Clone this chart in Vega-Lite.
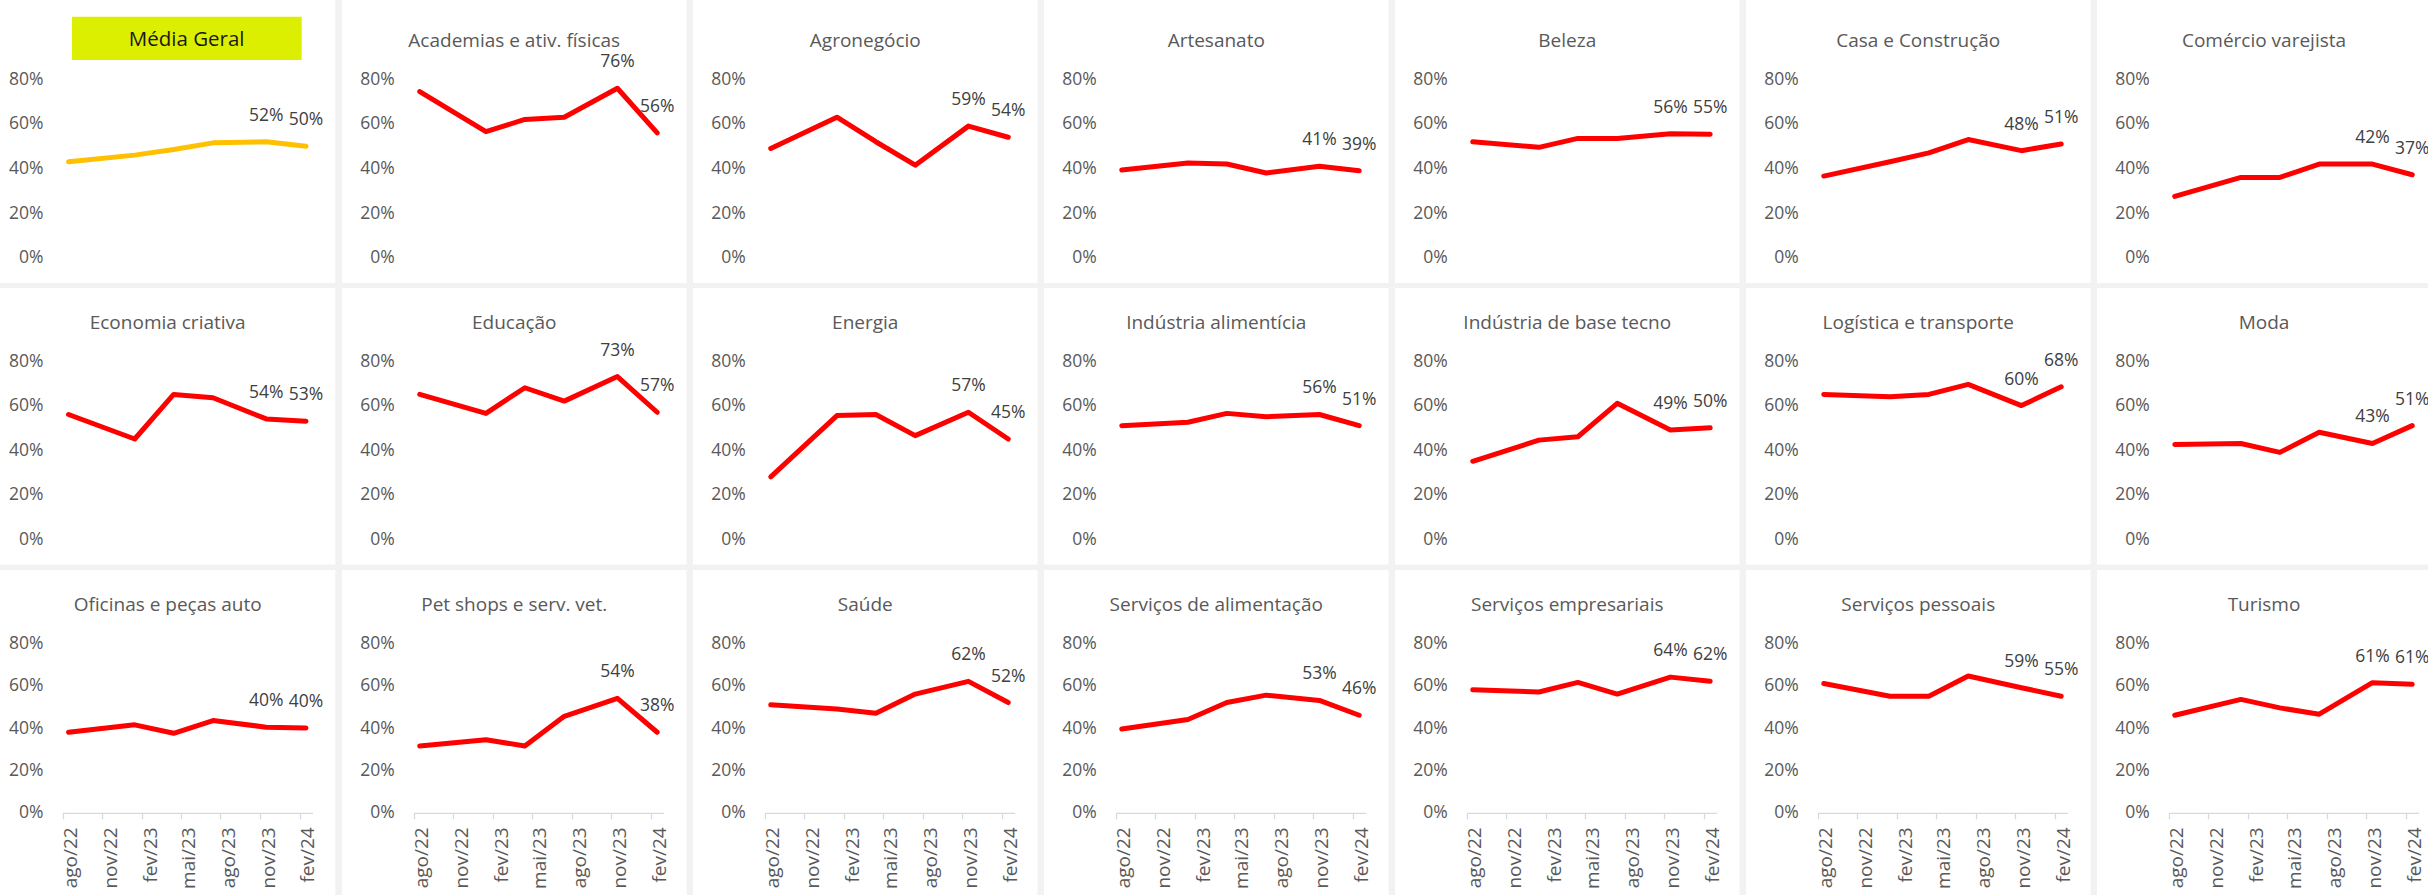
{
"$schema": "https://vega.github.io/schema/vega-lite/v6.json",
"background": "#f2f2f2",
"padding": 0,
"data": {"format": {"parse": {"d": "date"}}, "values": [
{"s":"Média Geral","d":"2022-08-15","v":0.43},{"s":"Média Geral","d":"2023-01-15","v":0.46},{"s":"Média Geral","d":"2023-04-15","v":0.485},{"s":"Média Geral","d":"2023-07-15","v":0.515},{"s":"Média Geral","d":"2023-11-15","v":0.52},{"s":"Média Geral","d":"2024-02-15","v":0.50},
{"s":"Academias e ativ. físicas","d":"2022-08-15","v":0.745},{"s":"Academias e ativ. físicas","d":"2023-01-15","v":0.565},{"s":"Academias e ativ. físicas","d":"2023-04-15","v":0.62},{"s":"Academias e ativ. físicas","d":"2023-07-15","v":0.63},{"s":"Academias e ativ. físicas","d":"2023-11-15","v":0.76},{"s":"Academias e ativ. físicas","d":"2024-02-15","v":0.56},
{"s":"Agronegócio","d":"2022-08-15","v":0.49},{"s":"Agronegócio","d":"2023-01-15","v":0.63},{"s":"Agronegócio","d":"2023-04-15","v":0.52},{"s":"Agronegócio","d":"2023-07-15","v":0.415},{"s":"Agronegócio","d":"2023-11-15","v":0.59},{"s":"Agronegócio","d":"2024-02-15","v":0.54},
{"s":"Artesanato","d":"2022-08-15","v":0.393},{"s":"Artesanato","d":"2023-01-15","v":0.425},{"s":"Artesanato","d":"2023-04-15","v":0.42},{"s":"Artesanato","d":"2023-07-15","v":0.38},{"s":"Artesanato","d":"2023-11-15","v":0.41},{"s":"Artesanato","d":"2024-02-15","v":0.39},
{"s":"Beleza","d":"2022-08-15","v":0.52},{"s":"Beleza","d":"2023-01-15","v":0.495},{"s":"Beleza","d":"2023-04-15","v":0.535},{"s":"Beleza","d":"2023-07-15","v":0.535},{"s":"Beleza","d":"2023-11-15","v":0.556},{"s":"Beleza","d":"2024-02-15","v":0.554},
{"s":"Casa e Construção","d":"2022-08-15","v":0.366},{"s":"Casa e Construção","d":"2023-01-15","v":0.43},{"s":"Casa e Construção","d":"2023-04-15","v":0.47},{"s":"Casa e Construção","d":"2023-07-15","v":0.53},{"s":"Casa e Construção","d":"2023-11-15","v":0.48},{"s":"Casa e Construção","d":"2024-02-15","v":0.51},
{"s":"Comércio varejista","d":"2022-08-15","v":0.275},{"s":"Comércio varejista","d":"2023-01-15","v":0.36},{"s":"Comércio varejista","d":"2023-04-15","v":0.36},{"s":"Comércio varejista","d":"2023-07-15","v":0.42},{"s":"Comércio varejista","d":"2023-11-15","v":0.42},{"s":"Comércio varejista","d":"2024-02-15","v":0.372},
{"s":"Economia criativa","d":"2022-08-15","v":0.56},{"s":"Economia criativa","d":"2023-01-15","v":0.45},{"s":"Economia criativa","d":"2023-04-15","v":0.65},{"s":"Economia criativa","d":"2023-07-15","v":0.635},{"s":"Economia criativa","d":"2023-11-15","v":0.54},{"s":"Economia criativa","d":"2024-02-15","v":0.53},
{"s":"Educação","d":"2022-08-15","v":0.65},{"s":"Educação","d":"2023-01-15","v":0.565},{"s":"Educação","d":"2023-04-15","v":0.68},{"s":"Educação","d":"2023-07-15","v":0.62},{"s":"Educação","d":"2023-11-15","v":0.73},{"s":"Educação","d":"2024-02-15","v":0.57},
{"s":"Energia","d":"2022-08-15","v":0.28},{"s":"Energia","d":"2023-01-15","v":0.555},{"s":"Energia","d":"2023-04-15","v":0.56},{"s":"Energia","d":"2023-07-15","v":0.465},{"s":"Energia","d":"2023-11-15","v":0.57},{"s":"Energia","d":"2024-02-15","v":0.45},
{"s":"Indústria alimentícia","d":"2022-08-15","v":0.51},{"s":"Indústria alimentícia","d":"2023-01-15","v":0.525},{"s":"Indústria alimentícia","d":"2023-04-15","v":0.565},{"s":"Indústria alimentícia","d":"2023-07-15","v":0.55},{"s":"Indústria alimentícia","d":"2023-11-15","v":0.56},{"s":"Indústria alimentícia","d":"2024-02-15","v":0.51},
{"s":"Indústria de base tecno","d":"2022-08-15","v":0.35},{"s":"Indústria de base tecno","d":"2023-01-15","v":0.445},{"s":"Indústria de base tecno","d":"2023-04-15","v":0.46},{"s":"Indústria de base tecno","d":"2023-07-15","v":0.61},{"s":"Indústria de base tecno","d":"2023-11-15","v":0.49},{"s":"Indústria de base tecno","d":"2024-02-15","v":0.50},
{"s":"Logística e transporte","d":"2022-08-15","v":0.65},{"s":"Logística e transporte","d":"2023-01-15","v":0.64},{"s":"Logística e transporte","d":"2023-04-15","v":0.65},{"s":"Logística e transporte","d":"2023-07-15","v":0.695},{"s":"Logística e transporte","d":"2023-11-15","v":0.60},{"s":"Logística e transporte","d":"2024-02-15","v":0.684},
{"s":"Moda","d":"2022-08-15","v":0.425},{"s":"Moda","d":"2023-01-15","v":0.43},{"s":"Moda","d":"2023-04-15","v":0.39},{"s":"Moda","d":"2023-07-15","v":0.48},{"s":"Moda","d":"2023-11-15","v":0.43},{"s":"Moda","d":"2024-02-15","v":0.51},
{"s":"Oficinas e peças auto","d":"2022-08-15","v":0.38},{"s":"Oficinas e peças auto","d":"2023-01-15","v":0.415},{"s":"Oficinas e peças auto","d":"2023-04-15","v":0.375},{"s":"Oficinas e peças auto","d":"2023-07-15","v":0.435},{"s":"Oficinas e peças auto","d":"2023-11-15","v":0.404},{"s":"Oficinas e peças auto","d":"2024-02-15","v":0.40},
{"s":"Pet shops e serv. vet.","d":"2022-08-15","v":0.315},{"s":"Pet shops e serv. vet.","d":"2023-01-15","v":0.345},{"s":"Pet shops e serv. vet.","d":"2023-04-15","v":0.315},{"s":"Pet shops e serv. vet.","d":"2023-07-15","v":0.455},{"s":"Pet shops e serv. vet.","d":"2023-11-15","v":0.54},{"s":"Pet shops e serv. vet.","d":"2024-02-15","v":0.38},
{"s":"Saúde","d":"2022-08-15","v":0.51},{"s":"Saúde","d":"2023-01-15","v":0.49},{"s":"Saúde","d":"2023-04-15","v":0.47},{"s":"Saúde","d":"2023-07-15","v":0.56},{"s":"Saúde","d":"2023-11-15","v":0.62},{"s":"Saúde","d":"2024-02-15","v":0.52},
{"s":"Serviços de alimentação","d":"2022-08-15","v":0.395},{"s":"Serviços de alimentação","d":"2023-01-15","v":0.44},{"s":"Serviços de alimentação","d":"2023-04-15","v":0.52},{"s":"Serviços de alimentação","d":"2023-07-15","v":0.555},{"s":"Serviços de alimentação","d":"2023-11-15","v":0.53},{"s":"Serviços de alimentação","d":"2024-02-15","v":0.46},
{"s":"Serviços empresariais","d":"2022-08-15","v":0.58},{"s":"Serviços empresariais","d":"2023-01-15","v":0.57},{"s":"Serviços empresariais","d":"2023-04-15","v":0.615},{"s":"Serviços empresariais","d":"2023-07-15","v":0.56},{"s":"Serviços empresariais","d":"2023-11-15","v":0.64},{"s":"Serviços empresariais","d":"2024-02-15","v":0.62},
{"s":"Serviços pessoais","d":"2022-08-15","v":0.61},{"s":"Serviços pessoais","d":"2023-01-15","v":0.55},{"s":"Serviços pessoais","d":"2023-04-15","v":0.55},{"s":"Serviços pessoais","d":"2023-07-15","v":0.645},{"s":"Serviços pessoais","d":"2023-11-15","v":0.59},{"s":"Serviços pessoais","d":"2024-02-15","v":0.55},
{"s":"Turismo","d":"2022-08-15","v":0.46},{"s":"Turismo","d":"2023-01-15","v":0.535},{"s":"Turismo","d":"2023-04-15","v":0.495},{"s":"Turismo","d":"2023-07-15","v":0.465},{"s":"Turismo","d":"2023-11-15","v":0.614},{"s":"Turismo","d":"2024-02-15","v":0.606}
]},
"spacing": 5,
"resolve": {"scale": {"x": "independent", "y": "independent"}},
"vconcat": [
{"spacing": 6, "resolve": {"scale": {"x": "independent", "y": "independent"}}, "hconcat": [
 {"width": 335.3, "height": 283, "title": {"text": "Média Geral", "offset": -50, "dx": 19, "color": "#1a1a1a", "fontSize": 20.5}, "transform": [{"filter": {"field": "s", "equal": "Média Geral"}}],
  "encoding": {"x": {"field": "d", "type": "temporal", "scale": {"type": "utc", "domain": [{"year":2022,"month":8,"date":1,"utc":true},{"year":2024,"month":3,"date":1,"utc":true}], "range": [62.5, 312.5]}, "axis": null},
   "y": {"field": "v", "type": "quantitative", "scale": {"domain": [0, 0.8], "range": [257.7, 79.3], "nice": false, "zero": false}, "axis": {"values": [0,0.2,0.4,0.6,0.8], "format": ".0%", "offset": -43}}},
  "layer": [
   {"transform": [{"filter": "datum.d < datetime(2022,8,1)"}], "mark": {"type": "rect", "color": "#ddef00"},
    "encoding": {"x": {"datum": {"year":2022,"month":8,"date":23,"utc":true}, "type": "temporal"}, "x2": {"datum": {"year":2024,"month":2,"date":5,"utc":true}}, "y": {"datum": 0.8865, "type": "quantitative"}, "y2": {"datum": 1.0807}}},
   {"mark": {"type": "line", "color": "#ffc000", "strokeWidth": 5, "strokeJoin": "round", "strokeCap": "round"}},
   {"transform": [{"filter": "datum.d >= datetime(2023,8,1)"}], "mark": {"type": "text", "dy": -26, "fontSize": 17.5, "color": "#404040"}, "encoding": {"text": {"field": "v", "type": "quantitative", "format": ".0%"}}}
  ]},
 {"width": 344.5, "height": 283, "title": {"text": "Academias e ativ. físicas", "offset": -51}, "transform": [{"filter": {"field": "s", "equal": "Academias e ativ. físicas"}}],
  "encoding": {"x": {"field": "d", "type": "temporal", "scale": {"type": "utc", "domain": [{"year":2022,"month":8,"date":1,"utc":true},{"year":2024,"month":3,"date":1,"utc":true}], "range": [71.7, 321.7]}, "axis": null},
   "y": {"field": "v", "type": "quantitative", "scale": {"domain": [0, 0.8], "range": [257.7, 79.3], "nice": false, "zero": false}, "axis": {"values": [0,0.2,0.4,0.6,0.8], "format": ".0%", "offset": -52.2}}},
  "layer": [{"mark": {"type": "line", "color": "#ff0000", "strokeWidth": 5, "strokeJoin": "round", "strokeCap": "round"}},
   {"transform": [{"filter": "datum.d >= datetime(2023,8,1)"}], "mark": {"type": "text", "dy": -26, "fontSize": 17.5, "color": "#404040"}, "encoding": {"text": {"field": "v", "type": "quantitative", "format": ".0%"}}}]},
 {"width": 344.5, "height": 283, "title": {"text": "Agronegócio", "offset": -51}, "transform": [{"filter": {"field": "s", "equal": "Agronegócio"}}],
  "encoding": {"x": {"field": "d", "type": "temporal", "scale": {"type": "utc", "domain": [{"year":2022,"month":8,"date":1,"utc":true},{"year":2024,"month":3,"date":1,"utc":true}], "range": [71.7, 321.7]}, "axis": null},
   "y": {"field": "v", "type": "quantitative", "scale": {"domain": [0, 0.8], "range": [257.7, 79.3], "nice": false, "zero": false}, "axis": {"values": [0,0.2,0.4,0.6,0.8], "format": ".0%", "offset": -52.2}}},
  "layer": [{"mark": {"type": "line", "color": "#ff0000", "strokeWidth": 5, "strokeJoin": "round", "strokeCap": "round"}},
   {"transform": [{"filter": "datum.d >= datetime(2023,8,1)"}], "mark": {"type": "text", "dy": -26, "fontSize": 17.5, "color": "#404040"}, "encoding": {"text": {"field": "v", "type": "quantitative", "format": ".0%"}}}]},
 {"width": 344.5, "height": 283, "title": {"text": "Artesanato", "offset": -51}, "transform": [{"filter": {"field": "s", "equal": "Artesanato"}}],
  "encoding": {"x": {"field": "d", "type": "temporal", "scale": {"type": "utc", "domain": [{"year":2022,"month":8,"date":1,"utc":true},{"year":2024,"month":3,"date":1,"utc":true}], "range": [71.7, 321.7]}, "axis": null},
   "y": {"field": "v", "type": "quantitative", "scale": {"domain": [0, 0.8], "range": [257.7, 79.3], "nice": false, "zero": false}, "axis": {"values": [0,0.2,0.4,0.6,0.8], "format": ".0%", "offset": -52.2}}},
  "layer": [{"mark": {"type": "line", "color": "#ff0000", "strokeWidth": 5, "strokeJoin": "round", "strokeCap": "round"}},
   {"transform": [{"filter": "datum.d >= datetime(2023,8,1)"}], "mark": {"type": "text", "dy": -26, "fontSize": 17.5, "color": "#404040"}, "encoding": {"text": {"field": "v", "type": "quantitative", "format": ".0%"}}}]},
 {"width": 344.5, "height": 283, "title": {"text": "Beleza", "offset": -51}, "transform": [{"filter": {"field": "s", "equal": "Beleza"}}],
  "encoding": {"x": {"field": "d", "type": "temporal", "scale": {"type": "utc", "domain": [{"year":2022,"month":8,"date":1,"utc":true},{"year":2024,"month":3,"date":1,"utc":true}], "range": [71.7, 321.7]}, "axis": null},
   "y": {"field": "v", "type": "quantitative", "scale": {"domain": [0, 0.8], "range": [257.7, 79.3], "nice": false, "zero": false}, "axis": {"values": [0,0.2,0.4,0.6,0.8], "format": ".0%", "offset": -52.2}}},
  "layer": [{"mark": {"type": "line", "color": "#ff0000", "strokeWidth": 5, "strokeJoin": "round", "strokeCap": "round"}},
   {"transform": [{"filter": "datum.d >= datetime(2023,8,1)"}], "mark": {"type": "text", "dy": -26, "fontSize": 17.5, "color": "#404040"}, "encoding": {"text": {"field": "v", "type": "quantitative", "format": ".0%"}}}]},
 {"width": 344.5, "height": 283, "title": {"text": "Casa e Construção", "offset": -51}, "transform": [{"filter": {"field": "s", "equal": "Casa e Construção"}}],
  "encoding": {"x": {"field": "d", "type": "temporal", "scale": {"type": "utc", "domain": [{"year":2022,"month":8,"date":1,"utc":true},{"year":2024,"month":3,"date":1,"utc":true}], "range": [71.7, 321.7]}, "axis": null},
   "y": {"field": "v", "type": "quantitative", "scale": {"domain": [0, 0.8], "range": [257.7, 79.3], "nice": false, "zero": false}, "axis": {"values": [0,0.2,0.4,0.6,0.8], "format": ".0%", "offset": -52.2}}},
  "layer": [{"mark": {"type": "line", "color": "#ff0000", "strokeWidth": 5, "strokeJoin": "round", "strokeCap": "round"}},
   {"transform": [{"filter": "datum.d >= datetime(2023,8,1)"}], "mark": {"type": "text", "dy": -26, "fontSize": 17.5, "color": "#404040"}, "encoding": {"text": {"field": "v", "type": "quantitative", "format": ".0%"}}}]},
 {"width": 334, "height": 283, "title": {"text": "Comércio varejista", "offset": -51}, "transform": [{"filter": {"field": "s", "equal": "Comércio varejista"}}],
  "encoding": {"x": {"field": "d", "type": "temporal", "scale": {"type": "utc", "domain": [{"year":2022,"month":8,"date":1,"utc":true},{"year":2024,"month":3,"date":1,"utc":true}], "range": [71.7, 321.7]}, "axis": null},
   "y": {"field": "v", "type": "quantitative", "scale": {"domain": [0, 0.8], "range": [257.7, 79.3], "nice": false, "zero": false}, "axis": {"values": [0,0.2,0.4,0.6,0.8], "format": ".0%", "offset": -52.2}}},
  "layer": [{"mark": {"type": "line", "color": "#ff0000", "strokeWidth": 5, "strokeJoin": "round", "strokeCap": "round"}},
   {"transform": [{"filter": "datum.d >= datetime(2023,8,1)"}], "mark": {"type": "text", "dy": -26, "fontSize": 17.5, "color": "#404040"}, "encoding": {"text": {"field": "v", "type": "quantitative", "format": ".0%"}}}]}
]},
{"spacing": 6, "resolve": {"scale": {"x": "independent", "y": "independent"}}, "hconcat": [
 {"width": 335.3, "height": 276.5, "title": {"text": "Economia criativa", "offset": -45}, "transform": [{"filter": {"field": "s", "equal": "Economia criativa"}}],
  "encoding": {"x": {"field": "d", "type": "temporal", "scale": {"type": "utc", "domain": [{"year":2022,"month":8,"date":1,"utc":true},{"year":2024,"month":3,"date":1,"utc":true}], "range": [62.5, 312.5]}, "axis": null},
   "y": {"field": "v", "type": "quantitative", "scale": {"domain": [0, 0.8], "range": [251.3, 73], "nice": false, "zero": false}, "axis": {"values": [0,0.2,0.4,0.6,0.8], "format": ".0%", "offset": -43}}},
  "layer": [{"mark": {"type": "line", "color": "#ff0000", "strokeWidth": 5, "strokeJoin": "round", "strokeCap": "round"}},
   {"transform": [{"filter": "datum.d >= datetime(2023,8,1)"}], "mark": {"type": "text", "dy": -26, "fontSize": 17.5, "color": "#404040"}, "encoding": {"text": {"field": "v", "type": "quantitative", "format": ".0%"}}}]},
 {"width": 344.5, "height": 276.5, "title": {"text": "Educação", "offset": -45}, "transform": [{"filter": {"field": "s", "equal": "Educação"}}],
  "encoding": {"x": {"field": "d", "type": "temporal", "scale": {"type": "utc", "domain": [{"year":2022,"month":8,"date":1,"utc":true},{"year":2024,"month":3,"date":1,"utc":true}], "range": [71.7, 321.7]}, "axis": null},
   "y": {"field": "v", "type": "quantitative", "scale": {"domain": [0, 0.8], "range": [251.3, 73], "nice": false, "zero": false}, "axis": {"values": [0,0.2,0.4,0.6,0.8], "format": ".0%", "offset": -52.2}}},
  "layer": [{"mark": {"type": "line", "color": "#ff0000", "strokeWidth": 5, "strokeJoin": "round", "strokeCap": "round"}},
   {"transform": [{"filter": "datum.d >= datetime(2023,8,1)"}], "mark": {"type": "text", "dy": -26, "fontSize": 17.5, "color": "#404040"}, "encoding": {"text": {"field": "v", "type": "quantitative", "format": ".0%"}}}]},
 {"width": 344.5, "height": 276.5, "title": {"text": "Energia", "offset": -45}, "transform": [{"filter": {"field": "s", "equal": "Energia"}}],
  "encoding": {"x": {"field": "d", "type": "temporal", "scale": {"type": "utc", "domain": [{"year":2022,"month":8,"date":1,"utc":true},{"year":2024,"month":3,"date":1,"utc":true}], "range": [71.7, 321.7]}, "axis": null},
   "y": {"field": "v", "type": "quantitative", "scale": {"domain": [0, 0.8], "range": [251.3, 73], "nice": false, "zero": false}, "axis": {"values": [0,0.2,0.4,0.6,0.8], "format": ".0%", "offset": -52.2}}},
  "layer": [{"mark": {"type": "line", "color": "#ff0000", "strokeWidth": 5, "strokeJoin": "round", "strokeCap": "round"}},
   {"transform": [{"filter": "datum.d >= datetime(2023,8,1)"}], "mark": {"type": "text", "dy": -26, "fontSize": 17.5, "color": "#404040"}, "encoding": {"text": {"field": "v", "type": "quantitative", "format": ".0%"}}}]},
 {"width": 344.5, "height": 276.5, "title": {"text": "Indústria alimentícia", "offset": -45}, "transform": [{"filter": {"field": "s", "equal": "Indústria alimentícia"}}],
  "encoding": {"x": {"field": "d", "type": "temporal", "scale": {"type": "utc", "domain": [{"year":2022,"month":8,"date":1,"utc":true},{"year":2024,"month":3,"date":1,"utc":true}], "range": [71.7, 321.7]}, "axis": null},
   "y": {"field": "v", "type": "quantitative", "scale": {"domain": [0, 0.8], "range": [251.3, 73], "nice": false, "zero": false}, "axis": {"values": [0,0.2,0.4,0.6,0.8], "format": ".0%", "offset": -52.2}}},
  "layer": [{"mark": {"type": "line", "color": "#ff0000", "strokeWidth": 5, "strokeJoin": "round", "strokeCap": "round"}},
   {"transform": [{"filter": "datum.d >= datetime(2023,8,1)"}], "mark": {"type": "text", "dy": -26, "fontSize": 17.5, "color": "#404040"}, "encoding": {"text": {"field": "v", "type": "quantitative", "format": ".0%"}}}]},
 {"width": 344.5, "height": 276.5, "title": {"text": "Indústria de base tecno", "offset": -45}, "transform": [{"filter": {"field": "s", "equal": "Indústria de base tecno"}}],
  "encoding": {"x": {"field": "d", "type": "temporal", "scale": {"type": "utc", "domain": [{"year":2022,"month":8,"date":1,"utc":true},{"year":2024,"month":3,"date":1,"utc":true}], "range": [71.7, 321.7]}, "axis": null},
   "y": {"field": "v", "type": "quantitative", "scale": {"domain": [0, 0.8], "range": [251.3, 73], "nice": false, "zero": false}, "axis": {"values": [0,0.2,0.4,0.6,0.8], "format": ".0%", "offset": -52.2}}},
  "layer": [{"mark": {"type": "line", "color": "#ff0000", "strokeWidth": 5, "strokeJoin": "round", "strokeCap": "round"}},
   {"transform": [{"filter": "datum.d >= datetime(2023,8,1)"}], "mark": {"type": "text", "dy": -26, "fontSize": 17.5, "color": "#404040"}, "encoding": {"text": {"field": "v", "type": "quantitative", "format": ".0%"}}}]},
 {"width": 344.5, "height": 276.5, "title": {"text": "Logística e transporte", "offset": -45}, "transform": [{"filter": {"field": "s", "equal": "Logística e transporte"}}],
  "encoding": {"x": {"field": "d", "type": "temporal", "scale": {"type": "utc", "domain": [{"year":2022,"month":8,"date":1,"utc":true},{"year":2024,"month":3,"date":1,"utc":true}], "range": [71.7, 321.7]}, "axis": null},
   "y": {"field": "v", "type": "quantitative", "scale": {"domain": [0, 0.8], "range": [251.3, 73], "nice": false, "zero": false}, "axis": {"values": [0,0.2,0.4,0.6,0.8], "format": ".0%", "offset": -52.2}}},
  "layer": [{"mark": {"type": "line", "color": "#ff0000", "strokeWidth": 5, "strokeJoin": "round", "strokeCap": "round"}},
   {"transform": [{"filter": "datum.d >= datetime(2023,8,1)"}], "mark": {"type": "text", "dy": -26, "fontSize": 17.5, "color": "#404040"}, "encoding": {"text": {"field": "v", "type": "quantitative", "format": ".0%"}}}]},
 {"width": 334, "height": 276.5, "title": {"text": "Moda", "offset": -45}, "transform": [{"filter": {"field": "s", "equal": "Moda"}}],
  "encoding": {"x": {"field": "d", "type": "temporal", "scale": {"type": "utc", "domain": [{"year":2022,"month":8,"date":1,"utc":true},{"year":2024,"month":3,"date":1,"utc":true}], "range": [71.7, 321.7]}, "axis": null},
   "y": {"field": "v", "type": "quantitative", "scale": {"domain": [0, 0.8], "range": [251.3, 73], "nice": false, "zero": false}, "axis": {"values": [0,0.2,0.4,0.6,0.8], "format": ".0%", "offset": -52.2}}},
  "layer": [{"mark": {"type": "line", "color": "#ff0000", "strokeWidth": 5, "strokeJoin": "round", "strokeCap": "round"}},
   {"transform": [{"filter": "datum.d >= datetime(2023,8,1)"}], "mark": {"type": "text", "dy": -26, "fontSize": 17.5, "color": "#404040"}, "encoding": {"text": {"field": "v", "type": "quantitative", "format": ".0%"}}}]}
]},
{"spacing": 6, "resolve": {"scale": {"x": "independent", "y": "independent"}}, "hconcat": [
 {"width": 335.3, "height": 325.5, "title": {"text": "Oficinas e peças auto", "offset": -45.4}, "transform": [{"filter": {"field": "s", "equal": "Oficinas e peças auto"}}],
  "encoding": {"x": {"field": "d", "type": "temporal", "scale": {"type": "utc", "domain": [{"year":2022,"month":8,"date":1,"utc":true},{"year":2024,"month":3,"date":1,"utc":true}], "range": [62.5, 312.5]},
    "axis": {"values": [{"year":2022,"month":8,"date":1,"utc":true},{"year":2022,"month":11,"date":1,"utc":true},{"year":2023,"month":2,"date":1,"utc":true},{"year":2023,"month":5,"date":1,"utc":true},{"year":2023,"month":8,"date":1,"utc":true},{"year":2023,"month":11,"date":1,"utc":true},{"year":2024,"month":2,"date":1,"utc":true}], "labelExpr": "['jan','fev','mar','abr','mai','jun','jul','ago','set','out','nov','dez'][utcmonth(datum.value)] + '/' + utcFormat(datum.value, '%y')", "offset": -82.7}},
   "y": {"field": "v", "type": "quantitative", "scale": {"domain": [0, 0.8], "range": [242.8, 73.2], "nice": false, "zero": false}, "axis": {"values": [0,0.2,0.4,0.6,0.8], "format": ".0%", "offset": -43}}},
  "layer": [{"mark": {"type": "line", "color": "#ff0000", "strokeWidth": 5, "strokeJoin": "round", "strokeCap": "round"}},
   {"transform": [{"filter": "datum.d >= datetime(2023,8,1)"}], "mark": {"type": "text", "dy": -26, "fontSize": 17.5, "color": "#404040"}, "encoding": {"text": {"field": "v", "type": "quantitative", "format": ".0%"}}}]},
 {"width": 344.5, "height": 325.5, "title": {"text": "Pet shops e serv. vet.", "offset": -45.4}, "transform": [{"filter": {"field": "s", "equal": "Pet shops e serv. vet."}}],
  "encoding": {"x": {"field": "d", "type": "temporal", "scale": {"type": "utc", "domain": [{"year":2022,"month":8,"date":1,"utc":true},{"year":2024,"month":3,"date":1,"utc":true}], "range": [71.7, 321.7]},
    "axis": {"values": [{"year":2022,"month":8,"date":1,"utc":true},{"year":2022,"month":11,"date":1,"utc":true},{"year":2023,"month":2,"date":1,"utc":true},{"year":2023,"month":5,"date":1,"utc":true},{"year":2023,"month":8,"date":1,"utc":true},{"year":2023,"month":11,"date":1,"utc":true},{"year":2024,"month":2,"date":1,"utc":true}], "labelExpr": "['jan','fev','mar','abr','mai','jun','jul','ago','set','out','nov','dez'][utcmonth(datum.value)] + '/' + utcFormat(datum.value, '%y')", "offset": -82.7}},
   "y": {"field": "v", "type": "quantitative", "scale": {"domain": [0, 0.8], "range": [242.8, 73.2], "nice": false, "zero": false}, "axis": {"values": [0,0.2,0.4,0.6,0.8], "format": ".0%", "offset": -52.2}}},
  "layer": [{"mark": {"type": "line", "color": "#ff0000", "strokeWidth": 5, "strokeJoin": "round", "strokeCap": "round"}},
   {"transform": [{"filter": "datum.d >= datetime(2023,8,1)"}], "mark": {"type": "text", "dy": -26, "fontSize": 17.5, "color": "#404040"}, "encoding": {"text": {"field": "v", "type": "quantitative", "format": ".0%"}}}]},
 {"width": 344.5, "height": 325.5, "title": {"text": "Saúde", "offset": -45.4}, "transform": [{"filter": {"field": "s", "equal": "Saúde"}}],
  "encoding": {"x": {"field": "d", "type": "temporal", "scale": {"type": "utc", "domain": [{"year":2022,"month":8,"date":1,"utc":true},{"year":2024,"month":3,"date":1,"utc":true}], "range": [71.7, 321.7]},
    "axis": {"values": [{"year":2022,"month":8,"date":1,"utc":true},{"year":2022,"month":11,"date":1,"utc":true},{"year":2023,"month":2,"date":1,"utc":true},{"year":2023,"month":5,"date":1,"utc":true},{"year":2023,"month":8,"date":1,"utc":true},{"year":2023,"month":11,"date":1,"utc":true},{"year":2024,"month":2,"date":1,"utc":true}], "labelExpr": "['jan','fev','mar','abr','mai','jun','jul','ago','set','out','nov','dez'][utcmonth(datum.value)] + '/' + utcFormat(datum.value, '%y')", "offset": -82.7}},
   "y": {"field": "v", "type": "quantitative", "scale": {"domain": [0, 0.8], "range": [242.8, 73.2], "nice": false, "zero": false}, "axis": {"values": [0,0.2,0.4,0.6,0.8], "format": ".0%", "offset": -52.2}}},
  "layer": [{"mark": {"type": "line", "color": "#ff0000", "strokeWidth": 5, "strokeJoin": "round", "strokeCap": "round"}},
   {"transform": [{"filter": "datum.d >= datetime(2023,8,1)"}], "mark": {"type": "text", "dy": -26, "fontSize": 17.5, "color": "#404040"}, "encoding": {"text": {"field": "v", "type": "quantitative", "format": ".0%"}}}]},
 {"width": 344.5, "height": 325.5, "title": {"text": "Serviços de alimentação", "offset": -45.4}, "transform": [{"filter": {"field": "s", "equal": "Serviços de alimentação"}}],
  "encoding": {"x": {"field": "d", "type": "temporal", "scale": {"type": "utc", "domain": [{"year":2022,"month":8,"date":1,"utc":true},{"year":2024,"month":3,"date":1,"utc":true}], "range": [71.7, 321.7]},
    "axis": {"values": [{"year":2022,"month":8,"date":1,"utc":true},{"year":2022,"month":11,"date":1,"utc":true},{"year":2023,"month":2,"date":1,"utc":true},{"year":2023,"month":5,"date":1,"utc":true},{"year":2023,"month":8,"date":1,"utc":true},{"year":2023,"month":11,"date":1,"utc":true},{"year":2024,"month":2,"date":1,"utc":true}], "labelExpr": "['jan','fev','mar','abr','mai','jun','jul','ago','set','out','nov','dez'][utcmonth(datum.value)] + '/' + utcFormat(datum.value, '%y')", "offset": -82.7}},
   "y": {"field": "v", "type": "quantitative", "scale": {"domain": [0, 0.8], "range": [242.8, 73.2], "nice": false, "zero": false}, "axis": {"values": [0,0.2,0.4,0.6,0.8], "format": ".0%", "offset": -52.2}}},
  "layer": [{"mark": {"type": "line", "color": "#ff0000", "strokeWidth": 5, "strokeJoin": "round", "strokeCap": "round"}},
   {"transform": [{"filter": "datum.d >= datetime(2023,8,1)"}], "mark": {"type": "text", "dy": -26, "fontSize": 17.5, "color": "#404040"}, "encoding": {"text": {"field": "v", "type": "quantitative", "format": ".0%"}}}]},
 {"width": 344.5, "height": 325.5, "title": {"text": "Serviços empresariais", "offset": -45.4}, "transform": [{"filter": {"field": "s", "equal": "Serviços empresariais"}}],
  "encoding": {"x": {"field": "d", "type": "temporal", "scale": {"type": "utc", "domain": [{"year":2022,"month":8,"date":1,"utc":true},{"year":2024,"month":3,"date":1,"utc":true}], "range": [71.7, 321.7]},
    "axis": {"values": [{"year":2022,"month":8,"date":1,"utc":true},{"year":2022,"month":11,"date":1,"utc":true},{"year":2023,"month":2,"date":1,"utc":true},{"year":2023,"month":5,"date":1,"utc":true},{"year":2023,"month":8,"date":1,"utc":true},{"year":2023,"month":11,"date":1,"utc":true},{"year":2024,"month":2,"date":1,"utc":true}], "labelExpr": "['jan','fev','mar','abr','mai','jun','jul','ago','set','out','nov','dez'][utcmonth(datum.value)] + '/' + utcFormat(datum.value, '%y')", "offset": -82.7}},
   "y": {"field": "v", "type": "quantitative", "scale": {"domain": [0, 0.8], "range": [242.8, 73.2], "nice": false, "zero": false}, "axis": {"values": [0,0.2,0.4,0.6,0.8], "format": ".0%", "offset": -52.2}}},
  "layer": [{"mark": {"type": "line", "color": "#ff0000", "strokeWidth": 5, "strokeJoin": "round", "strokeCap": "round"}},
   {"transform": [{"filter": "datum.d >= datetime(2023,8,1)"}], "mark": {"type": "text", "dy": -26, "fontSize": 17.5, "color": "#404040"}, "encoding": {"text": {"field": "v", "type": "quantitative", "format": ".0%"}}}]},
 {"width": 344.5, "height": 325.5, "title": {"text": "Serviços pessoais", "offset": -45.4}, "transform": [{"filter": {"field": "s", "equal": "Serviços pessoais"}}],
  "encoding": {"x": {"field": "d", "type": "temporal", "scale": {"type": "utc", "domain": [{"year":2022,"month":8,"date":1,"utc":true},{"year":2024,"month":3,"date":1,"utc":true}], "range": [71.7, 321.7]},
    "axis": {"values": [{"year":2022,"month":8,"date":1,"utc":true},{"year":2022,"month":11,"date":1,"utc":true},{"year":2023,"month":2,"date":1,"utc":true},{"year":2023,"month":5,"date":1,"utc":true},{"year":2023,"month":8,"date":1,"utc":true},{"year":2023,"month":11,"date":1,"utc":true},{"year":2024,"month":2,"date":1,"utc":true}], "labelExpr": "['jan','fev','mar','abr','mai','jun','jul','ago','set','out','nov','dez'][utcmonth(datum.value)] + '/' + utcFormat(datum.value, '%y')", "offset": -82.7}},
   "y": {"field": "v", "type": "quantitative", "scale": {"domain": [0, 0.8], "range": [242.8, 73.2], "nice": false, "zero": false}, "axis": {"values": [0,0.2,0.4,0.6,0.8], "format": ".0%", "offset": -52.2}}},
  "layer": [{"mark": {"type": "line", "color": "#ff0000", "strokeWidth": 5, "strokeJoin": "round", "strokeCap": "round"}},
   {"transform": [{"filter": "datum.d >= datetime(2023,8,1)"}], "mark": {"type": "text", "dy": -26, "fontSize": 17.5, "color": "#404040"}, "encoding": {"text": {"field": "v", "type": "quantitative", "format": ".0%"}}}]},
 {"width": 334, "height": 325.5, "title": {"text": "Turismo", "offset": -45.4}, "transform": [{"filter": {"field": "s", "equal": "Turismo"}}],
  "encoding": {"x": {"field": "d", "type": "temporal", "scale": {"type": "utc", "domain": [{"year":2022,"month":8,"date":1,"utc":true},{"year":2024,"month":3,"date":1,"utc":true}], "range": [71.7, 321.7]},
    "axis": {"values": [{"year":2022,"month":8,"date":1,"utc":true},{"year":2022,"month":11,"date":1,"utc":true},{"year":2023,"month":2,"date":1,"utc":true},{"year":2023,"month":5,"date":1,"utc":true},{"year":2023,"month":8,"date":1,"utc":true},{"year":2023,"month":11,"date":1,"utc":true},{"year":2024,"month":2,"date":1,"utc":true}], "labelExpr": "['jan','fev','mar','abr','mai','jun','jul','ago','set','out','nov','dez'][utcmonth(datum.value)] + '/' + utcFormat(datum.value, '%y')", "offset": -82.7}},
   "y": {"field": "v", "type": "quantitative", "scale": {"domain": [0, 0.8], "range": [242.8, 73.2], "nice": false, "zero": false}, "axis": {"values": [0,0.2,0.4,0.6,0.8], "format": ".0%", "offset": -52.2}}},
  "layer": [{"mark": {"type": "line", "color": "#ff0000", "strokeWidth": 5, "strokeJoin": "round", "strokeCap": "round"}},
   {"transform": [{"filter": "datum.d >= datetime(2023,8,1)"}], "mark": {"type": "text", "dy": -26, "fontSize": 17.5, "color": "#404040"}, "encoding": {"text": {"field": "v", "type": "quantitative", "format": ".0%"}}}]}
]}
],
"config": {
 "view": {"fill": "#ffffff", "stroke": null},
 "title": {"font": "Open Sans", "fontSize": 19, "fontWeight": "normal", "color": "#595959", "anchor": "middle", "frame": "group", "baseline": "middle"},
 "axis": {"grid": false, "domain": false, "ticks": false, "tickSize": 0, "labelPadding": 0, "labelFont": "Open Sans", "labelFontSize": 17.5, "labelColor": "#595959", "title": null},
 "axisX": {"domain": true, "domainColor": "#d9d9d9", "domainWidth": 1.3, "ticks": true, "tickSize": 6, "tickColor": "#d9d9d9", "tickWidth": 1.3, "labelAngle": 270, "labelAlign": "right", "labelBaseline": "middle", "labelPadding": 8, "labelOffset": 8, "labelFontSize": 19, "labelOverlap": false, "labelFlush": false},
 "text": {"font": "Open Sans"}
}
}
